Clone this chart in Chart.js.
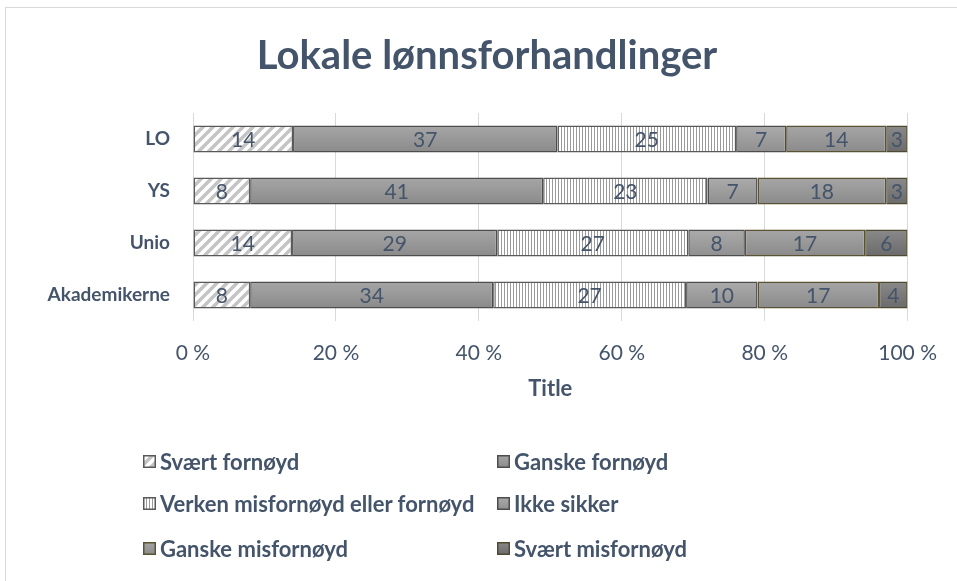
<!DOCTYPE html>
<html>
<head>
<meta charset="utf-8">
<script src="https://cdn.jsdelivr.net/npm/chart.js@4"></script>
<style>
html,body{margin:0;padding:0;background:#fff}
#wrap{position:relative;width:957px;height:581px;overflow:hidden}
#frame{position:absolute;left:5px;top:7px;width:960px;height:580px;border:1px solid #d9d9d9;box-sizing:border-box}
#legend{position:absolute;left:0;top:0;font-family:Lato,"Open Sans",sans-serif;font-weight:bold;font-size:22px;color:#44546a}
.item{position:absolute;display:flex;align-items:center;white-space:nowrap;height:24px}
.item canvas{margin-right:4px}
</style>
</head>
<body>
<div id="wrap">
<div id="frame"></div>
<canvas id="chart"></canvas>
<div id="legend"></div>
</div>
<script>
const categories = ["LO","YS","Unio","Akademikerne"]
const svaertFornoyd = [14,8,14,8]
const ganskeFornoyd = [37,41,29,34]
const verken = [25,23,27,27]
const ikkeSikker = [7,7,8,10]
const ganskeMisfornoyd = [14,18,17,17]
const svaertMisfornoyd = [3,3,6,4]
const xTicks = [0,20,40,60,80,100]

const textColor = "#44546a"
const chartTitle = "Lokale lønnsforhandlinger"

function hatchPattern(){
const c = document.createElement("canvas")
c.width = 10; c.height = 10
const x = c.getContext("2d")
x.fillStyle = "#fff"; x.fillRect(0,0,10,10)
x.strokeStyle = "#c4c4c4"; x.lineWidth = 3.5
x.beginPath()
x.moveTo(-5,5); x.lineTo(5,-5)
x.moveTo(0,10); x.lineTo(10,0)
x.moveTo(5,15); x.lineTo(15,5)
x.stroke()
return x.createPattern(c,"repeat")
}

function stripePattern(){
const c = document.createElement("canvas")
c.width = 3; c.height = 3
const x = c.getContext("2d")
x.fillStyle = "#fff"; x.fillRect(0,0,3,3)
x.fillStyle = "#9a9a9a"; x.fillRect(0,0,1,3)
return x.createPattern(c,"repeat")
}

const series = [
{name:"Svært fornøyd", values:svaertFornoyd, fill:hatchPattern(), border:"#595959"},
{name:"Ganske fornøyd", values:ganskeFornoyd, fill:["#a6a6a6","#8a8a8a"], border:"#4d4d4d"},
{name:"Verken misfornøyd eller fornøyd", values:verken, fill:stripePattern(), border:"#595959"},
{name:"Ikke sikker", values:ikkeSikker, fill:["#ababab","#8f8f8f"], border:"#4d4d4d"},
{name:"Ganske misfornøyd", values:ganskeMisfornoyd, fill:["#a6a6a6","#8a8a8a"], border:"#5b5233"},
{name:"Svært misfornøyd", values:svaertMisfornoyd, fill:["#8a8a8a","#6a6a6a"], border:"#4f4a2f"}
]

const totals = categories.map((c,i)=>series.reduce((s,d)=>s+d.values[i],0))

// vertical gradient over each bar, placed with the category scale
function barFill(fill){
if(!Array.isArray(fill)) return fill
return function(ctx){
const chart = ctx.chart
const y = chart.scales.y
if(!chart.chartArea || ctx.dataIndex === undefined) return fill[1]
const c = y.getPixelForValue(ctx.dataIndex)
const h = (chart.chartArea.bottom - chart.chartArea.top) / categories.length * 0.52
const g = chart.ctx.createLinearGradient(0, c - h/2, 0, c + h/2)
g.addColorStop(0, fill[0])
g.addColorStop(1, fill[1])
return g
}
}

const datasets = series.map(s=>({
label:s.name,
data:s.values.map((v,i)=>v/totals[i]*100),
raw:s.values,
backgroundColor:barFill(s.fill),
borderColor:s.border,
borderWidth:1.5,
borderSkipped:false,
barPercentage:0.52,
categoryPercentage:1
}))

// value labels in the middle of each segment
const labelPlugin = {
id:"barLabels",
afterDatasetsDraw(chart){
const ctx = chart.ctx
ctx.save()
ctx.font = "21px Lato"
ctx.fillStyle = textColor
ctx.textAlign = "center"
ctx.textBaseline = "middle"
chart.data.datasets.forEach((ds,i)=>{
chart.getDatasetMeta(i).data.forEach((bar,j)=>{
const p = bar.getProps(["x","y","base"],true)
ctx.fillText(ds.raw[j], (p.x+p.base)/2, p.y+1)
})
})
ctx.restore()
}
}

// title centred on the whole frame, not the plot
const titlePlugin = {
id:"bigTitle",
afterDraw(chart){
const ctx = chart.ctx
ctx.save()
ctx.font = "bold 40px Lato"
ctx.fillStyle = textColor
ctx.textAlign = "center"
ctx.textBaseline = "middle"
ctx.fillText(chartTitle, 487, 56)
ctx.restore()
}
}

const chart = new Chart(document.getElementById("chart"),{
type:"bar",
data:{labels:categories, datasets},
plugins:[labelPlugin,titlePlugin],
options:{
indexAxis:"y",
responsive:true,
maintainAspectRatio:false,
animation:false,
layout:{padding:{top:113,right:49,bottom:175,left:0}},
scales:{
x:{
stacked:true,
min:0,max:100,
afterBuildTicks(scale){ scale.ticks = xTicks.map(v=>({value:v})) },
afterFit(scale){ scale.height = 85 },
grid:{color:"#d9d9d9",drawTicks:false},
border:{display:false},
ticks:{padding:20,maxRotation:0,color:textColor,font:{family:"Lato",size:21},callback:v=>v+" %"},
title:{display:true,text:"Title",color:textColor,font:{family:"Lato",size:22,weight:"bold"},padding:{top:9,bottom:4}}
},
y:{
stacked:true,
grid:{display:false,drawTicks:false},
border:{display:false},
afterFit(scale){ scale.width = 193 },
ticks:{padding:23,color:textColor,font:{family:"Lato",size:19,weight:"bold"}}
}
},
plugins:{
legend:{display:false},
tooltip:{enabled:false},
title:{display:false}
}
}
})

// legend in two columns
const legend = document.getElementById("legend")
const colX = [143,497]
const rowY = [449,491,536]
series.forEach((s,i)=>{
const item = document.createElement("div")
item.className = "item"
item.style.left = colX[i%2]+"px"
item.style.top = rowY[Math.floor(i/2)]+"px"
const sw = document.createElement("canvas")
sw.width = 13; sw.height = 13
const x = sw.getContext("2d")
if(Array.isArray(s.fill)){
const g = x.createLinearGradient(0,0,0,13)
g.addColorStop(0,s.fill[0]); g.addColorStop(1,s.fill[1])
x.fillStyle = g
} else x.fillStyle = s.fill
x.fillRect(0,0,13,13)
x.strokeStyle = s.border; x.lineWidth = 1.5; x.strokeRect(0.75,0.75,11.5,11.5)
item.appendChild(sw)
const t = document.createElement("span")
t.textContent = s.name
item.appendChild(t)
legend.appendChild(item)
})
</script>
</body>
</html>
